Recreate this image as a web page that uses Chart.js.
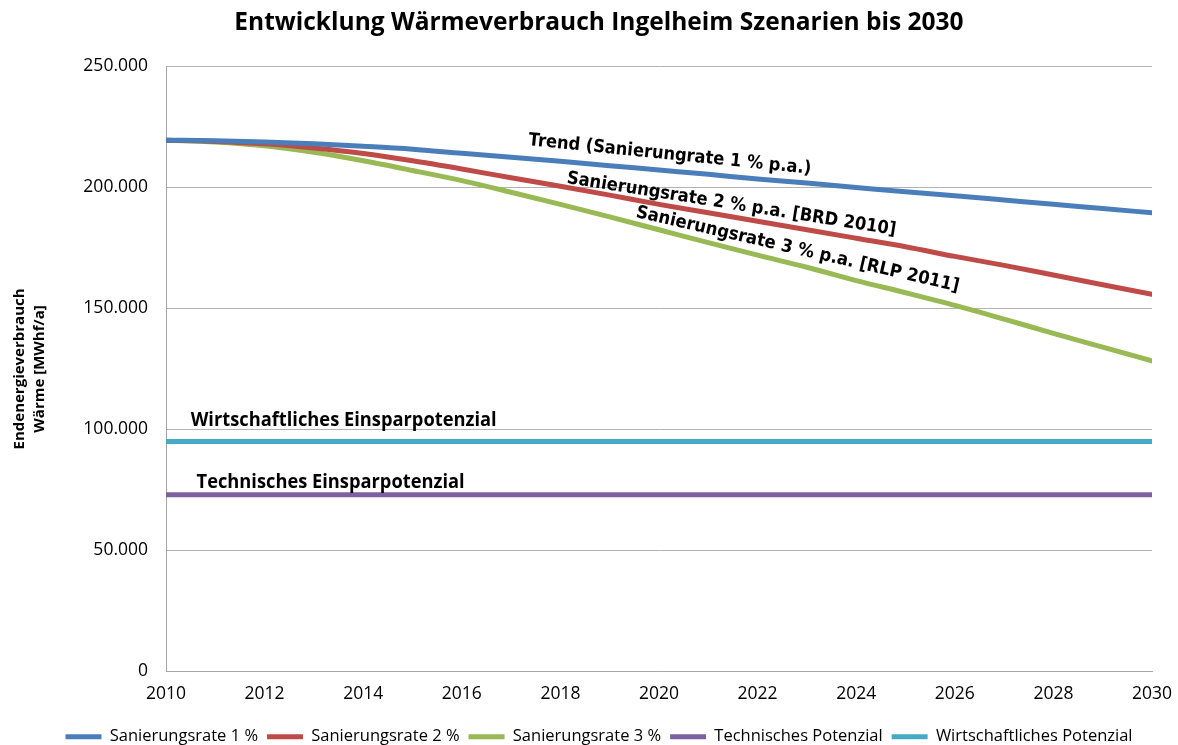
<!DOCTYPE html>
<html>
<head>
<meta charset="utf-8">
<script src="https://cdn.jsdelivr.net/npm/chart.js@4"></script>
<style>
  html, body { margin: 0; padding: 0; background: #fff; }
  #wrap { width: 1178px; height: 745px; }
</style>
</head>
<body>
<div id="wrap"><canvas id="c" width="1178" height="745"></canvas></div>
<script>
/* ---------- data ---------- */
const years  = [2010,2011,2012,2013,2014,2015,2016,2017,2018,2019,2020,
                2021,2022,2023,2024,2025,2026,2027,2028,2029,2030];
const rate1  = [219500,219300,218800,218000,217000,215800,214100,212500,210800,209000,207200,
                205400,203500,201800,200000,198200,196600,194800,193000,191300,189500];
const rate2  = [219500,219000,218000,216300,214000,211000,207600,204000,200500,196800,193000,
                189500,186000,182500,179000,175500,171500,167800,163800,159800,155800];
const rate3  = [219500,218800,217200,214500,211000,207000,202800,198000,193000,187800,182500,
                177200,172000,167000,161500,156500,151300,145600,139700,134000,128300];
const technisch      = 73000;
const wirtschaftlich = 95000;

const seriesNames = ["Sanierungsrate 1 %","Sanierungsrate 2 %","Sanierungsrate 3 %",
                     "Technisches Potenzial","Wirtschaftliches Potenzial"];
const colors = ["#4a7ebb","#be4b48","#98b954","#7d60a0","#46aac5"];

const yTicks = [0,50000,100000,150000,200000,250000];
const xTicks = [2010,2012,2014,2016,2018,2020,2022,2024,2026,2028,2030];

/* ---------- helpers ---------- */
const fmt  = v => v === 0 ? "0" : String(v).replace(/\B(?=(\d{3})+(?!\d))/g, ".");
const pts  = arr => years.map((y,i) => ({x:y, y:arr[i]}));
const flat = v => years.map(y => ({x:y, y:v}));

function ds(label, data, color){
  return { label, data, borderColor:color, backgroundColor:color,
           borderWidth:5, pointRadius:0, borderCapStyle:"round",
           cubicInterpolationMode:"monotone", fill:false };
}

/* ---------- in-chart labels ---------- */
const notes = [
  {text:"Trend (Sanierungrate 1 % p.a.)",     x:2020.22, y:213500, angle:5.8, len:284, font:"bold 18px 'DejaVu Sans'"},
  {text:"Sanierungsrate 2 % p.a. [BRD 2010]", x:2021.47, y:193000, angle:9,   len:333, font:"bold 18px 'DejaVu Sans'"},
  {text:"Sanierungsrate 3 % p.a. [RLP 2011]", x:2022.81, y:174300, angle:13,  len:331, font:"bold 18px 'DejaVu Sans'"},
  {text:"Wirtschaftliches Einsparpotenzial",  x:2010.5,  y:103500, angle:0,   len:306, font:"bold 19px 'Open Sans'", left:true},
  {text:"Technisches Einsparpotenzial",       x:2010.62, y:78000,  angle:0,   len:268, font:"bold 19px 'Open Sans'", left:true}
];

const notePlugin = {
  id:"notes",
  afterDatasetsDraw(chart){
    const {ctx, scales:{x, y}} = chart;
    notes.forEach(n => {
      ctx.save();
      ctx.font = n.font;
      ctx.fillStyle = "#000";
      ctx.textBaseline = "middle";
      ctx.textAlign = n.left ? "left" : "center";
      ctx.translate(x.getPixelForValue(n.x), y.getPixelForValue(n.y));
      ctx.rotate(n.angle * Math.PI / 180);
      ctx.scale(n.len / ctx.measureText(n.text).width, 1);
      ctx.fillText(n.text, 0, 0);
      ctx.restore();
    });
  }
};

/* ---------- chart ---------- */
new Chart(document.getElementById("c"), {
  type:"line",
  data:{
    datasets:[
      ds(seriesNames[0], pts(rate1), colors[0]),
      ds(seriesNames[1], pts(rate2), colors[1]),
      ds(seriesNames[2], pts(rate3), colors[2]),
      ds(seriesNames[3], flat(technisch), colors[3]),
      ds(seriesNames[4], flat(wirtschaftlich), colors[4])
    ]
  },
  options:{
    responsive:false, animation:false, devicePixelRatio:1,
    layout:{padding:{left:46, right:26, top:0, bottom:-10}},
    scales:{
      x:{
        type:"linear", min:2010, max:2030,
        afterBuildTicks: s => { s.ticks = xTicks.map(v => ({value:v})); },
        afterFit: s => { s.height = 48; s.paddingRight = 0; },
        grid:{display:false, drawTicks:false},
        border:{display:true, color:"#a6a6a6", width:1},
        ticks:{padding:12, color:"#000", font:{family:"'Open Sans'", size:17.5}, maxRotation:0,
               callback: v => String(v)}
      },
      y:{
        min:0, max:250000,
        afterBuildTicks: s => { s.ticks = yTicks.map(v => ({value:v})); },
        afterFit: s => { s.width = 120; },
        grid:{color:"#b3b3b3", lineWidth:1, drawTicks:false},
        border:{display:true, color:"#a6a6a6", width:1},
        ticks:{padding:18, color:"#000", font:{family:"'Open Sans'", size:17.5}, callback: v => fmt(v)},
        title:{display:true, text:["Endenergieverbrauch","Wärme [MWhf/a]"], color:"#000",
               font:{family:"'Open Sans'", size:15, weight:"bold", lineHeight:1.3}, padding:{top:-36,bottom:0}}
      }
    },
    plugins:{
      title:{display:true, text:"Entwicklung Wärmeverbrauch Ingelheim Szenarien bis 2030",
             color:"#000", font:{family:"'Open Sans'", size:24.5, weight:"bold", lineHeight:1.2},
             padding:{top:8, bottom:29}},
      legend:{position:"bottom",
              labels:{usePointStyle:true, pointStyle:"line", pointStyleWidth:36, boxHeight:17,
                      padding:9, color:"#000", font:{family:"'Open Sans'", size:16.5, lineHeight:1.03}}},
      tooltip:{enabled:false}
    }
  },
  plugins:[notePlugin]
});
</script>
</body>
</html>
